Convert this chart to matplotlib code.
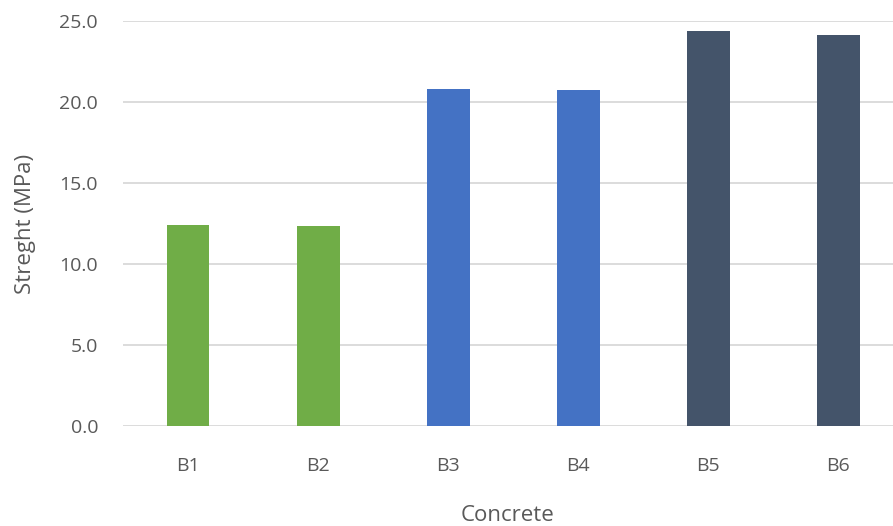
import matplotlib
matplotlib.use('Agg')
import matplotlib.pyplot as plt

concretes = ['B1', 'B2', 'B3', 'B4', 'B5', 'B6']
strength = [12.4, 12.35, 20.8, 20.75, 24.4, 24.15]
colors = ['#70AD47', '#70AD47', '#4472C4', '#4472C4', '#44546A', '#44546A']
yticks = [0, 5, 10, 15, 20, 25]

plt.rcParams['font.family'] = ['Open Sans', 'DejaVu Sans']

fig = plt.figure(figsize=(8.93, 5.26), dpi=100)
ax = fig.add_axes([123 / 893, 100 / 526, 770 / 893, 405 / 526])

x = list(range(len(concretes)))
ax.bar(x, strength, width=0.33, color=colors, zorder=3)

ax.set_xlim(-0.5, 5.42)
ax.set_ylim(0, 25)
ax.set_yticks(yticks)
ax.set_yticklabels(['%.1f' % v for v in yticks])
ax.set_xticks(x)
ax.set_xticklabels(concretes)

ax.grid(axis='y', color='#D9D9D9', linewidth=1.3, zorder=0)
ax.tick_params(axis='both', length=0, labelsize=14, labelcolor='#595959')
ax.tick_params(axis='y', pad=18)
ax.tick_params(axis='x', pad=22)
for s in ax.spines.values():
    s.set_visible(False)

ax.set_ylabel('Streght (MPa)', fontsize=16, color='#595959', labelpad=17)
ax.set_xlabel('Concrete', fontsize=16, color='#595959', labelpad=22)

fig.savefig('out.png', dpi=100)
